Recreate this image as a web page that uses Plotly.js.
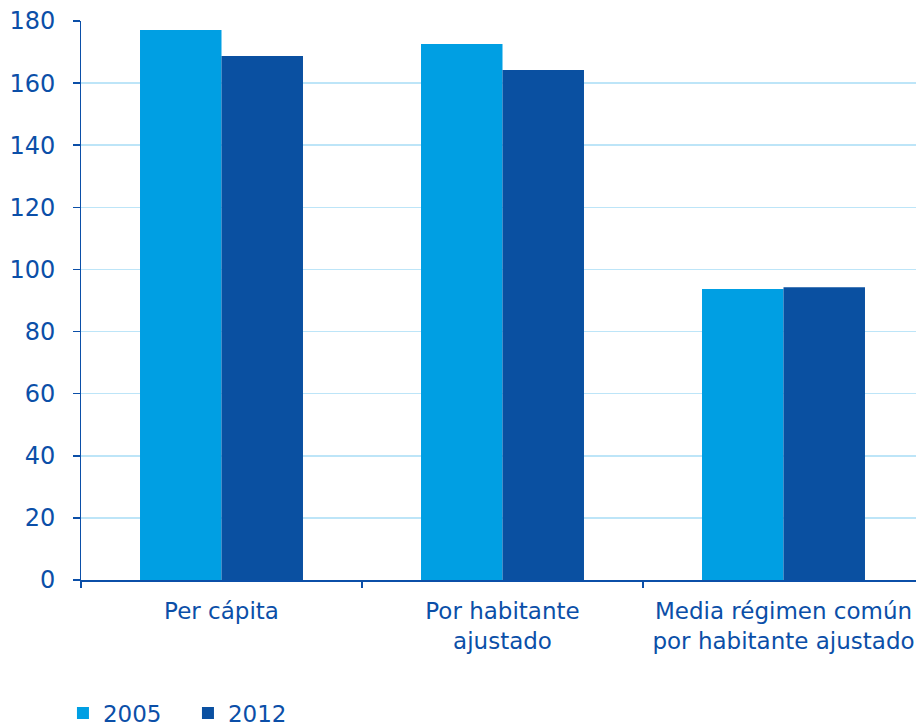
<!DOCTYPE html>
<html><head><meta charset="utf-8">
<script src="https://cdn.plot.ly/plotly-3.0.1.min.js"></script>
<style>html,body{margin:0;padding:0;overflow:hidden;background:#fff;width:916px;height:726px}</style>
</head><body><div id="chart"></div>
<script>
const categories = ["Per cápita", "Por habitante<br>ajustado", "Media régimen común<br>por habitante ajustado"];
const seriesNames = ["2005", "2012"];
const values2005 = [177.1, 172.6, 93.7];
const values2012 = [168.7, 164.2, 94.3];
const yTicks = [0, 20, 40, 60, 80, 100, 120, 140, 160, 180];

const blue = "#0B4FA8";
const traces = [
  {type: "bar", name: seriesNames[0], x: categories, y: values2005, marker: {color: "#009FE3"}},
  {type: "bar", name: seriesNames[1], x: categories, y: values2012, marker: {color: "#0A50A1"}}
];
const layout = {
  width: 930, height: 726,
  margin: {l: 81, r: 6, t: 21, b: 146, autoexpand: false},
  paper_bgcolor: "#fff", plot_bgcolor: "#fff",
  font: {family: "DejaVu Sans, Liberation Sans, Arial, sans-serif", size: 24, color: blue},
  barmode: "group", bargap: 0.42, bargroupgap: 0,
  showlegend: true,
  legend: {orientation: "h", xref: "container", yref: "container", x: 0.0677, xanchor: "left",
           y: 0.0179, yanchor: "middle",
           font: {size: 23, color: blue}, itemwidth: 30, entrywidth: 80, entrywidthmode: "pixels",
           traceorder: "normal"},
  xaxis: {type: "category", showline: true, linecolor: blue, linewidth: 1.5,
          ticks: "outside", tickson: "boundaries", ticklen: 6, tickcolor: blue, tickwidth: 1.5,
          showgrid: false, tickangle: 0, tickfont: {size: 23, color: blue}, ticklabelstandoff: 10,
          automargin: false},
  yaxis: {range: [0, 180], tickvals: yTicks, ticktext: yTicks.map(v => v + "\u00a0\u2009"),
          showline: true, linecolor: blue, linewidth: 1.5,
          ticks: "outside", ticklen: 7, tickcolor: blue, tickwidth: 1.5,
          gridcolor: "#BDE5F8", gridwidth: 1.5, zeroline: false,
          tickfont: {size: 24, color: blue}, automargin: false}
};
Plotly.newPlot("chart", traces, layout, {displayModeBar: false, staticPlot: true});
</script></body></html>
